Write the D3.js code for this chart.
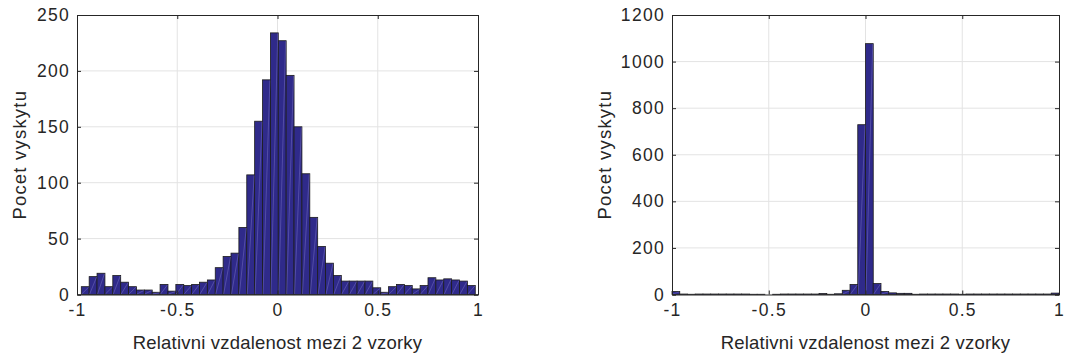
<!DOCTYPE html>
<html>
<head>
<meta charset="utf-8">
<script src="https://cdn.jsdelivr.net/npm/d3@7"></script>
<style>
  body { margin: 0; background: #fff; }
  text { font-family: "Liberation Sans", Arial, sans-serif; fill: #262626; }
</style>
</head>
<body>
<div id="chart"></div>
<script>
const width = 1067;
const height = 360;

// histogram 1 (sirsi rozlozeni)
const leftBinStart = -0.9786;
const leftBinWidth = 0.0393;
const leftCounts = [7, 16, 19, 7, 17, 11, 7, 4, 4, 2, 9, 3, 9, 8, 9, 11, 13, 24, 34, 37,
  60, 107, 155, 192, 234, 227, 196, 150, 108, 69, 43, 28, 17, 12, 12, 12, 12, 6, 2, 7,
  9, 8, 5, 8, 15, 13, 14, 13, 12, 8];
const leftYTicks = [0, 50, 100, 150, 200, 250];

// histogram 2 (uzky vrchol)
const rightBinStart = -1;
const rightBinWidth = 0.04;
const rightCounts = [13, 2, 1, 2, 2, 2, 2, 2, 2, 2, 1, 1, 0, 1, 2, 2, 2, 2, 2, 4,
  1, 3, 18, 43, 729, 1077, 47, 13, 7, 5, 5, 1, 2, 2, 2, 2, 2, 1, 2, 2,
  2, 2, 2, 2, 2, 2, 2, 2, 2, 6];
const rightYTicks = [0, 200, 400, 600, 800, 1000, 1200];

const xTicks = [-1, -0.5, 0, 0.5, 1];
const xLabel = "Relativni vzdalenost mezi 2 vzorky";
const yLabel = "Pocet vyskytu";

const barColor = "#2f2a8a";
const edgeColor = "#1c1c1c";
const gridColor = "#e3e3e3";
const axisColor = "#262626";

const svg = d3.select("#chart")
  .append("svg")
  .attr("width", width)
  .attr("height", height);

svg.append("rect").attr("width", width).attr("height", height).attr("fill", "#fff");

function drawHist(opts) {
  const x = d3.scaleLinear().domain([-1, 1]).range([opts.left, opts.right]);
  const y = d3.scaleLinear().domain([0, opts.yMax]).range([opts.bottom, opts.top]);
  const g = svg.append("g");

  // mrizka
  g.append("g").selectAll("line")
    .data(xTicks.slice(1, -1))
    .join("line")
    .attr("x1", d => x(d)).attr("x2", d => x(d))
    .attr("y1", opts.top).attr("y2", opts.bottom)
    .attr("stroke", gridColor);
  g.append("g").selectAll("line")
    .data(opts.yTicks.slice(1, -1))
    .join("line")
    .attr("x1", opts.left).attr("x2", opts.right)
    .attr("y1", d => y(d)).attr("y2", d => y(d))
    .attr("stroke", gridColor);

  const bins = opts.counts.map((c, i) => ({
    x0: opts.binStart + i * opts.binWidth,
    x1: opts.binStart + (i + 1) * opts.binWidth,
    count: c
  })).filter(d => d.count > 0);

  g.append("g").selectAll("rect")
    .data(bins)
    .join("rect")
    .attr("x", d => x(d.x0))
    .attr("y", d => y(d.count))
    .attr("width", d => x(d.x1) - x(d.x0))
    .attr("height", d => y(0) - y(d.count))
    .attr("fill", barColor)
    .attr("stroke", edgeColor)
    .attr("stroke-width", 0.8);

  // svetla diagonala pres sloupec (jako v exportu z matlabu)
  g.append("g").selectAll("line")
    .data(bins.filter(d => y(0) - y(d.count) > 2))
    .join("line")
    .attr("x1", d => x(d.x0) + 0.5)
    .attr("y1", y(0) - 0.5)
    .attr("x2", d => x(d.x1) - 0.5)
    .attr("y2", d => y(d.count) + 0.5)
    .attr("stroke", "#8e86d6")
    .attr("stroke-opacity", 0.55)
    .attr("stroke-width", 0.7);

  // osy s ticky dovnitr
  const fmt = d => String(d);
  const xAxis = g.append("g")
    .attr("transform", `translate(0,${opts.bottom})`)
    .call(d3.axisBottom(x).tickValues(xTicks).tickSize(-4).tickPadding(9).tickFormat(fmt));
  const yAxis = g.append("g")
    .attr("transform", `translate(${opts.left},0)`)
    .call(d3.axisLeft(y).tickValues(opts.yTicks).tickSize(-4).tickPadding(7).tickFormat(fmt));
  g.append("g")
    .attr("transform", `translate(0,${opts.top})`)
    .call(d3.axisTop(x).tickValues(xTicks).tickSize(-4).tickFormat(""));
  g.append("g")
    .attr("transform", `translate(${opts.right},0)`)
    .call(d3.axisRight(y).tickValues(opts.yTicks).tickSize(-4).tickFormat(""));

  g.selectAll(".domain").attr("stroke", axisColor);
  g.selectAll(".tick line").attr("stroke", axisColor);
  [xAxis, yAxis].forEach(a => a.selectAll("text")
    .attr("fill", axisColor)
    .style("font-family", "'Liberation Sans', Arial, sans-serif")
    .style("font-size", "17.5px")
    .style("letter-spacing", "1.3px"));
  xAxis.selectAll("text").attr("dy", "0.71em");

  g.append("text")
    .attr("x", (opts.left + opts.right) / 2)
    .attr("y", 348.5)
    .attr("text-anchor", "middle")
    .style("font-size", "18.5px")
    .style("letter-spacing", "0.2px")
    .text(xLabel);

  g.append("text")
    .attr("transform", `translate(${opts.yLabelX},${(opts.top + opts.bottom) / 2}) rotate(-90)`)
    .attr("text-anchor", "middle")
    .style("font-size", "18.5px")
    .style("letter-spacing", "1.2px")
    .text(yLabel);
}

drawHist({
  left: 77, right: 478, top: 15, bottom: 294.5,
  yMax: 250, yTicks: leftYTicks,
  counts: leftCounts, binStart: leftBinStart, binWidth: leftBinWidth,
  yLabelX: 25.5
});

drawHist({
  left: 672, right: 1059, top: 15, bottom: 294.5,
  yMax: 1200, yTicks: rightYTicks,
  counts: rightCounts, binStart: rightBinStart, binWidth: rightBinWidth,
  yLabelX: 610.5
});
</script>
</body>
</html>
